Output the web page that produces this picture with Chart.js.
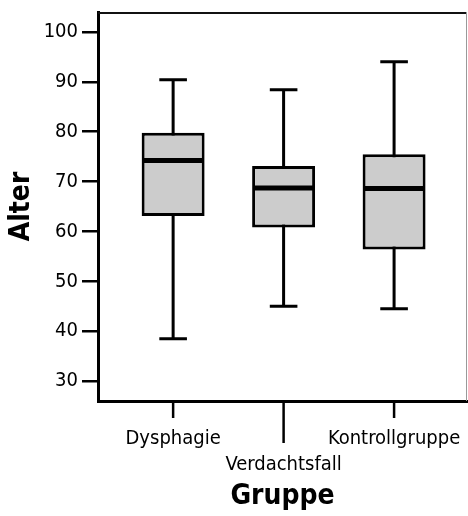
<!DOCTYPE html>
<html>
<head>
<meta charset="utf-8">
<script src="https://cdn.jsdelivr.net/npm/chart.js@4/dist/chart.umd.min.js"></script>
<style>
  html, body { margin: 0; padding: 0; background: #fff; }
  #wrap { width: 468px; height: 516px; }
</style>
</head>
<body>
<div id="wrap"><canvas id="chart"></canvas></div>
<script>
// Boxplot: Alter nach Gruppe
const categories = ["Dysphagie", "Verdachtsfall", "Kontrollgruppe"];
const whiskerLow = [38.5, 45.0, 44.5];
const q1 = [63.1, 60.8, 56.4];
const median = [74.2, 68.7, 68.6];
const q3 = [79.8, 73.1, 75.5];
const whiskerHigh = [90.4, 88.4, 94.0];
const yTicks = [30, 40, 50, 60, 70, 80, 90, 100];

const FONT = "'DejaVu Sans Condensed', 'DejaVu Sans', sans-serif";

/* whiskers, medians, x ticks, frame */
const boxPlugin = {
  id: "boxplot",
  beforeDatasetsDraw(chart) {
    const { ctx, scales: { x, y } } = chart;
    ctx.save();
    ctx.strokeStyle = "#000";
    ctx.lineWidth = 3;
    categories.forEach((c, i) => {
      const px = x.getPixelForValue(i);
      const capL = x.getPixelForValue(i - 0.125);
      const capR = x.getPixelForValue(i + 0.125);
      const lo = y.getPixelForValue(whiskerLow[i]);
      const hi = y.getPixelForValue(whiskerHigh[i]);
      ctx.beginPath();
      ctx.moveTo(px, lo); ctx.lineTo(px, hi);
      ctx.moveTo(capL, lo); ctx.lineTo(capR, lo);
      ctx.moveTo(capL, hi); ctx.lineTo(capR, hi);
      ctx.stroke();
    });
    ctx.restore();
  },
  afterDatasetsDraw(chart) {
    const { ctx, scales: { y } } = chart;
    const bars = chart.getDatasetMeta(0).data;
    ctx.save();
    ctx.strokeStyle = "#000";
    ctx.lineWidth = 5;
    bars.forEach((bar, i) => {
      const my = y.getPixelForValue(median[i]);
      ctx.beginPath();
      ctx.moveTo(bar.x - bar.width / 2 + 1, my);
      ctx.lineTo(bar.x + bar.width / 2 - 1, my);
      ctx.stroke();
    });
    ctx.restore();
  },
  afterDraw(chart) {
    const { ctx, chartArea: a, scales: { x } } = chart;
    ctx.save();
    // x tick marks (middle one longer, label is staggered)
    ctx.strokeStyle = "#000";
    ctx.lineWidth = 2.5;
    categories.forEach((c, i) => {
      const px = x.getPixelForValue(i);
      ctx.beginPath();
      ctx.moveTo(px, a.bottom);
      ctx.lineTo(px, a.bottom + (i === 1 ? 42 : 17));
      ctx.stroke();
    });
    // frame top + right
    ctx.lineWidth = 2;
    ctx.strokeStyle = "#111";
    ctx.beginPath();
    ctx.moveTo(a.left, a.top + 1);
    ctx.lineTo(a.right, a.top + 1);
    ctx.stroke();
    ctx.lineWidth = 1;
    ctx.strokeStyle = "#999";
    ctx.beginPath();
    ctx.moveTo(a.right - 0.5, a.top);
    ctx.lineTo(a.right - 0.5, a.bottom);
    ctx.stroke();
    ctx.restore();
  }
};

new Chart(document.getElementById("chart"), {
  type: "bar",
  data: {
    datasets: [{
      data: categories.map((c, i) => ({ x: i, y: [q1[i], q3[i]] })),
      backgroundColor: "#cccccc",
      borderColor: "#000",
      borderWidth: 3,
      borderSkipped: false,
      barPercentage: 0.57,
      categoryPercentage: 1
    }]
  },
  options: {
    responsive: true,
    maintainAspectRatio: false,
    animation: false,
    layout: { padding: { top: 12, right: 1, left: 0, bottom: 0 } },
    plugins: { legend: { display: false }, tooltip: { enabled: false } },
    scales: {
      x: {
        type: "linear",
        offset: false,
        min: -0.68,
        max: 2.66,
        afterBuildTicks: s => { s.ticks = categories.map((c, i) => ({ value: i })); },
        afterFit: s => { s.height = 115; s.paddingLeft = 0; s.paddingRight = 0; },
        grid: { display: false, drawTicks: false },
        border: { display: true, color: "#000", width: 3 },
        ticks: {
          autoSkip: false,
          maxRotation: 0,
          padding: 25,
          color: "#000",
          font: { family: FONT, size: 20, lineHeight: 1.3 },
          callback: v => (v === 1 ? ["", categories[v]] : categories[v])
        },
        title: {
          display: true,
          text: "Gruppe",
          color: "#000",
          padding: { top: 0, bottom: 2 },
          font: { family: FONT, size: 28, weight: "bold" }
        }
      },
      y: {
        min: 26,
        max: 104,
        afterBuildTicks: s => { s.ticks = yTicks.map(v => ({ value: v })); },
        afterFit: s => { s.width = 98; s.paddingTop = 0; s.paddingBottom = 0; },
        grid: {
          drawOnChartArea: false,
          drawTicks: true,
          tickLength: 16,
          color: "#000",
          lineWidth: 2.5
        },
        border: { display: true, color: "#000", width: 3 },
        ticks: {
          padding: 4,
          color: "#000",
          font: { family: FONT, size: 20 }
        },
        title: {
          display: true,
          text: "Alter",
          color: "#000",
          padding: { top: 5, bottom: 0 },
          font: { family: FONT, size: 28, weight: "bold" }
        }
      }
    }
  },
  plugins: [boxPlugin]
});
</script>
</body>
</html>
